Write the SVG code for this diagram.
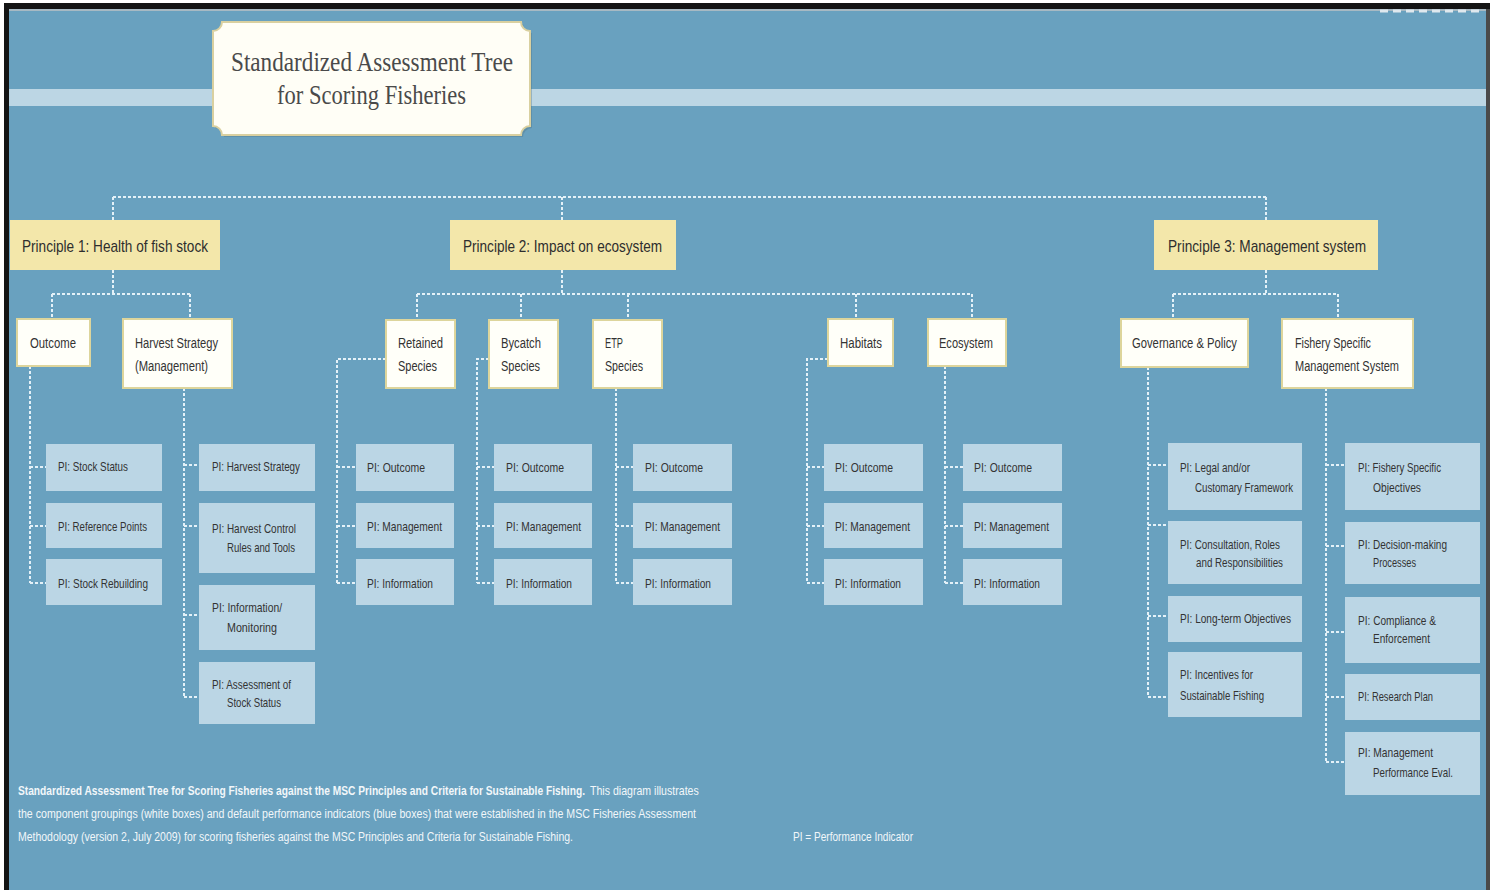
<svg xmlns="http://www.w3.org/2000/svg" width="1490" height="890" viewBox="0 0 1490 890">
<style>
.conn{fill:none;stroke:#e4f1f8;stroke-width:2;stroke-dasharray:3 2}
.prin{fill:#f3e7aa}
.grp{fill:#fffff9;stroke:#ddd59c;stroke-width:2}
.pi{fill:#bbd6e5}
.t{font-family:"Liberation Sans",Arial,sans-serif;fill:#333}
.pt{font-size:17px;fill:#2e2e2e}
.gt{font-size:14px}
.it{font-size:13px}
.note{font-family:"Liberation Sans",Arial,sans-serif;font-size:12px;fill:#f2f7fa}
.title{font-family:"Liberation Serif","Times New Roman",serif;font-size:27px;fill:#4a4a4a}
</style>
<rect width="1490" height="890" fill="#ffffff"/>
<rect x="4" y="3" width="1486" height="887" fill="#141414"/>
<rect x="1486" y="9" width="4" height="881" fill="#4a4a4a"/>
<rect x="9" y="9" width="1477" height="881" fill="#69a1bf"/>
<rect x="9" y="9" width="1477" height="2" fill="#a7b9c3"/>
<line x1="1380" y1="11" x2="1480" y2="11" stroke="#dfe8ee" stroke-width="3" stroke-dasharray="8 5"/>
<rect x="9" y="89" width="1477" height="17" fill="#bcd6e4"/>

<g id="title">
<path d="M224,24 H523 A9,9 0 0 0 532,33 V128 A9,9 0 0 0 523,137 H224 A9,9 0 0 0 215,128 V33 A9,9 0 0 0 224,24 Z" fill="#4d6f80" opacity="0.35"/>
<path d="M222,22 H521 A9,9 0 0 0 530,31 V126 A9,9 0 0 0 521,135 H222 A9,9 0 0 0 213,126 V31 A9,9 0 0 0 222,22 Z" fill="#fffef6" stroke="#d9d0a0" stroke-width="2"/>
<text class="title" x="231" y="71" textLength="282" lengthAdjust="spacingAndGlyphs">Standardized Assessment Tree</text>
<text class="title" x="277" y="104" textLength="189" lengthAdjust="spacingAndGlyphs">for Scoring Fisheries</text>
</g>

<g id="connectors">
<path class="conn" d="M113,197 H1266 M113,197 V220 M562,197 V220 M1266,197 V220"/>
<path class="conn" d="M113,270 V294 M52,294 H190 M52,294 V319 M190,294 V319"/>
<path class="conn" d="M30,366 V583 M30,467 H46 M30,526 H46 M30,583 H46"/>
<path class="conn" d="M184,388 V697 M184,465 H199 M184,526 H199 M184,615 H199 M184,697 H199"/>
<path class="conn" d="M562,270 V294 M417,294 H972 M417,294 V320 M521,294 V320 M628,294 V320 M856,294 V319 M972,294 V319"/>
<path class="conn" d="M386,359 H337 V583 M337,467 H356 M337,526 H356 M337,583 H356"/>
<path class="conn" d="M489,359 H477 V583 M477,467 H494 M477,526 H494 M477,583 H494"/>
<path class="conn" d="M616,388 V583 M616,467 H633 M616,526 H633 M616,583 H633"/>
<path class="conn" d="M828,359 H807 V583 M807,467 H824 M807,526 H824 M807,583 H824"/>
<path class="conn" d="M945,366 V583 M945,467 H963 M945,526 H963 M945,583 H963"/>
<path class="conn" d="M1266,270 V294 M1173,294 H1338 M1173,294 V319 M1338,294 V319"/>
<path class="conn" d="M1148,367 V697 M1148,465 H1168 M1148,525 H1168 M1148,616 H1168 M1148,697 H1168"/>
<path class="conn" d="M1326,388 V762 M1326,465 H1345 M1326,546 H1345 M1326,632 H1345 M1326,697 H1345 M1326,762 H1345"/>
</g>

<g id="p1"><rect class="prin" x="10" y="220" width="210" height="50"/><text class="t pt" x="22" y="252" textLength="186" lengthAdjust="spacingAndGlyphs">Principle 1: Health of fish stock</text></g>
<g id="p2"><rect class="prin" x="450" y="220" width="226" height="50"/><text class="t pt" x="463" y="252" textLength="199" lengthAdjust="spacingAndGlyphs">Principle 2: Impact on ecosystem</text></g>
<g id="p3"><rect class="prin" x="1154" y="220" width="224" height="50"/><text class="t pt" x="1168" y="252" textLength="198" lengthAdjust="spacingAndGlyphs">Principle 3: Management system</text></g>

<g id="outcome"><rect class="grp" x="17" y="319" width="73" height="47"/><text class="t gt" x="30" y="348" textLength="46" lengthAdjust="spacingAndGlyphs">Outcome</text></g>
<g id="harvest"><rect class="grp" x="123" y="319" width="109" height="69"/><text class="t gt" x="135" y="348" textLength="83" lengthAdjust="spacingAndGlyphs">Harvest Strategy</text><text class="t gt" x="135" y="371" textLength="73" lengthAdjust="spacingAndGlyphs">(Management)</text></g>
<g id="retained"><rect class="grp" x="386" y="320" width="69" height="68"/><text class="t gt" x="398" y="348" textLength="45" lengthAdjust="spacingAndGlyphs">Retained</text><text class="t gt" x="398" y="371" textLength="39" lengthAdjust="spacingAndGlyphs">Species</text></g>
<g id="bycatch"><rect class="grp" x="489" y="320" width="69" height="68"/><text class="t gt" x="501" y="348" textLength="40" lengthAdjust="spacingAndGlyphs">Bycatch</text><text class="t gt" x="501" y="371" textLength="39" lengthAdjust="spacingAndGlyphs">Species</text></g>
<g id="etp"><rect class="grp" x="593" y="320" width="69" height="68"/><text class="t gt" x="605" y="348" textLength="18" lengthAdjust="spacingAndGlyphs">ETP</text><text class="t gt" x="605" y="371" textLength="38" lengthAdjust="spacingAndGlyphs">Species</text></g>
<g id="habitats"><rect class="grp" x="828" y="319" width="65" height="47"/><text class="t gt" x="840" y="348" textLength="42" lengthAdjust="spacingAndGlyphs">Habitats</text></g>
<g id="ecosystem"><rect class="grp" x="928" y="319" width="78" height="47"/><text class="t gt" x="939" y="348" textLength="54" lengthAdjust="spacingAndGlyphs">Ecosystem</text></g>
<g id="governance"><rect class="grp" x="1121" y="319" width="127" height="48"/><text class="t gt" x="1132" y="348" textLength="105" lengthAdjust="spacingAndGlyphs">Governance &amp; Policy</text></g>
<g id="fishery"><rect class="grp" x="1282" y="319" width="131" height="69"/><text class="t gt" x="1295" y="348" textLength="76" lengthAdjust="spacingAndGlyphs">Fishery Specific</text><text class="t gt" x="1295" y="371" textLength="104" lengthAdjust="spacingAndGlyphs">Management System</text></g>

<g id="pi-stock-status"><rect class="pi" x="46" y="444" width="116" height="47"/><text class="t it" x="58" y="471" textLength="70" lengthAdjust="spacingAndGlyphs">PI: Stock Status</text></g>
<g id="pi-reference-points"><rect class="pi" x="46" y="503" width="116" height="45"/><text class="t it" x="58" y="531" textLength="89" lengthAdjust="spacingAndGlyphs">PI: Reference Points</text></g>
<g id="pi-stock-rebuilding"><rect class="pi" x="46" y="559" width="116" height="46"/><text class="t it" x="58" y="588" textLength="90" lengthAdjust="spacingAndGlyphs">PI: Stock Rebuilding</text></g>

<g id="pi-harvest-strategy"><rect class="pi" x="199" y="444" width="116" height="47"/><text class="t it" x="212" y="471" textLength="88" lengthAdjust="spacingAndGlyphs">PI: Harvest Strategy</text></g>
<g id="pi-hcr"><rect class="pi" x="199" y="503" width="116" height="70"/><text class="t it" x="212" y="533" textLength="84" lengthAdjust="spacingAndGlyphs">PI: Harvest Control</text><text class="t it" x="227" y="552" textLength="68" lengthAdjust="spacingAndGlyphs">Rules and Tools</text></g>
<g id="pi-info-monitoring"><rect class="pi" x="199" y="585" width="116" height="65"/><text class="t it" x="212" y="612" textLength="70" lengthAdjust="spacingAndGlyphs">PI: Information/</text><text class="t it" x="227" y="632" textLength="50" lengthAdjust="spacingAndGlyphs">Monitoring</text></g>
<g id="pi-assessment"><rect class="pi" x="199" y="662" width="116" height="62"/><text class="t it" x="212" y="689" textLength="79" lengthAdjust="spacingAndGlyphs">PI: Assessment of</text><text class="t it" x="227" y="707" textLength="54" lengthAdjust="spacingAndGlyphs">Stock Status</text></g>

<g id="retained-outcome"><rect class="pi" x="356" y="444" width="98" height="47"/><text class="t it" x="367" y="472" textLength="58" lengthAdjust="spacingAndGlyphs">PI: Outcome</text></g>
<g id="retained-management"><rect class="pi" x="356" y="503" width="98" height="45"/><text class="t it" x="367" y="531" textLength="75" lengthAdjust="spacingAndGlyphs">PI: Management</text></g>
<g id="retained-information"><rect class="pi" x="356" y="559" width="98" height="46"/><text class="t it" x="367" y="588" textLength="66" lengthAdjust="spacingAndGlyphs">PI: Information</text></g>

<g id="bycatch-outcome"><rect class="pi" x="494" y="444" width="98" height="47"/><text class="t it" x="506" y="472" textLength="58" lengthAdjust="spacingAndGlyphs">PI: Outcome</text></g>
<g id="bycatch-management"><rect class="pi" x="494" y="503" width="98" height="45"/><text class="t it" x="506" y="531" textLength="75" lengthAdjust="spacingAndGlyphs">PI: Management</text></g>
<g id="bycatch-information"><rect class="pi" x="494" y="559" width="98" height="46"/><text class="t it" x="506" y="588" textLength="66" lengthAdjust="spacingAndGlyphs">PI: Information</text></g>

<g id="etp-outcome"><rect class="pi" x="633" y="444" width="99" height="47"/><text class="t it" x="645" y="472" textLength="58" lengthAdjust="spacingAndGlyphs">PI: Outcome</text></g>
<g id="etp-management"><rect class="pi" x="633" y="503" width="99" height="45"/><text class="t it" x="645" y="531" textLength="75" lengthAdjust="spacingAndGlyphs">PI: Management</text></g>
<g id="etp-information"><rect class="pi" x="633" y="559" width="99" height="46"/><text class="t it" x="645" y="588" textLength="66" lengthAdjust="spacingAndGlyphs">PI: Information</text></g>

<g id="habitats-outcome"><rect class="pi" x="824" y="444" width="99" height="47"/><text class="t it" x="835" y="472" textLength="58" lengthAdjust="spacingAndGlyphs">PI: Outcome</text></g>
<g id="habitats-management"><rect class="pi" x="824" y="503" width="99" height="45"/><text class="t it" x="835" y="531" textLength="75" lengthAdjust="spacingAndGlyphs">PI: Management</text></g>
<g id="habitats-information"><rect class="pi" x="824" y="559" width="99" height="46"/><text class="t it" x="835" y="588" textLength="66" lengthAdjust="spacingAndGlyphs">PI: Information</text></g>

<g id="ecosystem-outcome"><rect class="pi" x="963" y="444" width="99" height="47"/><text class="t it" x="974" y="472" textLength="58" lengthAdjust="spacingAndGlyphs">PI: Outcome</text></g>
<g id="ecosystem-management"><rect class="pi" x="963" y="503" width="99" height="45"/><text class="t it" x="974" y="531" textLength="75" lengthAdjust="spacingAndGlyphs">PI: Management</text></g>
<g id="ecosystem-information"><rect class="pi" x="963" y="559" width="99" height="46"/><text class="t it" x="974" y="588" textLength="66" lengthAdjust="spacingAndGlyphs">PI: Information</text></g>

<g id="pi-legal"><rect class="pi" x="1168" y="443" width="134" height="67"/><text class="t it" x="1180" y="472" textLength="70" lengthAdjust="spacingAndGlyphs">PI: Legal and/or</text><text class="t it" x="1195" y="492" textLength="98" lengthAdjust="spacingAndGlyphs">Customary Framework</text></g>
<g id="pi-consultation"><rect class="pi" x="1168" y="521" width="134" height="63"/><text class="t it" x="1180" y="549" textLength="100" lengthAdjust="spacingAndGlyphs">PI: Consultation, Roles</text><text class="t it" x="1196" y="567" textLength="87" lengthAdjust="spacingAndGlyphs">and Responsibilities</text></g>
<g id="pi-longterm"><rect class="pi" x="1168" y="596" width="134" height="46"/><text class="t it" x="1180" y="623" textLength="111" lengthAdjust="spacingAndGlyphs">PI: Long-term Objectives</text></g>
<g id="pi-incentives"><rect class="pi" x="1168" y="652" width="134" height="65"/><text class="t it" x="1180" y="679" textLength="73" lengthAdjust="spacingAndGlyphs">PI: Incentives for</text><text class="t it" x="1180" y="700" textLength="84" lengthAdjust="spacingAndGlyphs">Sustainable Fishing</text></g>

<g id="pi-fishery-objectives"><rect class="pi" x="1345" y="443" width="135" height="67"/><text class="t it" x="1358" y="472" textLength="83" lengthAdjust="spacingAndGlyphs">PI: Fishery Specific</text><text class="t it" x="1373" y="492" textLength="48" lengthAdjust="spacingAndGlyphs">Objectives</text></g>
<g id="pi-decision"><rect class="pi" x="1345" y="522" width="135" height="62"/><text class="t it" x="1358" y="549" textLength="89" lengthAdjust="spacingAndGlyphs">PI: Decision-making</text><text class="t it" x="1373" y="567" textLength="43" lengthAdjust="spacingAndGlyphs">Processes</text></g>
<g id="pi-compliance"><rect class="pi" x="1345" y="597" width="135" height="66"/><text class="t it" x="1358" y="625" textLength="78" lengthAdjust="spacingAndGlyphs">PI: Compliance &amp;</text><text class="t it" x="1373" y="643" textLength="57" lengthAdjust="spacingAndGlyphs">Enforcement</text></g>
<g id="pi-research"><rect class="pi" x="1345" y="674" width="135" height="46"/><text class="t it" x="1358" y="701" textLength="75" lengthAdjust="spacingAndGlyphs">PI: Research Plan</text></g>
<g id="pi-performance"><rect class="pi" x="1345" y="732" width="135" height="63"/><text class="t it" x="1358" y="757" textLength="75" lengthAdjust="spacingAndGlyphs">PI: Management</text><text class="t it" x="1373" y="777" textLength="80" lengthAdjust="spacingAndGlyphs">Performance Eval.</text></g>

<g id="caption">
<text class="note" transform="translate(18 795) scale(0.7 1)" x="0" y="0" font-weight="bold" textLength="810" lengthAdjust="spacingAndGlyphs">Standardized Assessment Tree for Scoring Fisheries against the MSC Principles and Criteria for Sustainable Fishing.</text>
<text class="note" transform="translate(590 795) scale(0.75 1)" x="0" y="0" textLength="145" lengthAdjust="spacingAndGlyphs">This diagram illustrates</text>
<text class="note" x="18" y="818" textLength="678" lengthAdjust="spacingAndGlyphs">the component groupings (white boxes) and default performance indicators (blue boxes) that were established in the MSC Fisheries Assessment</text>
<text class="note" x="18" y="841" textLength="555" lengthAdjust="spacingAndGlyphs">Methodology (version 2, July 2009) for scoring fisheries against the MSC Principles and Criteria for Sustainable Fishing.</text>
<text class="note" x="793" y="841" textLength="120" lengthAdjust="spacingAndGlyphs">PI = Performance Indicator</text>
</g>
</svg>
